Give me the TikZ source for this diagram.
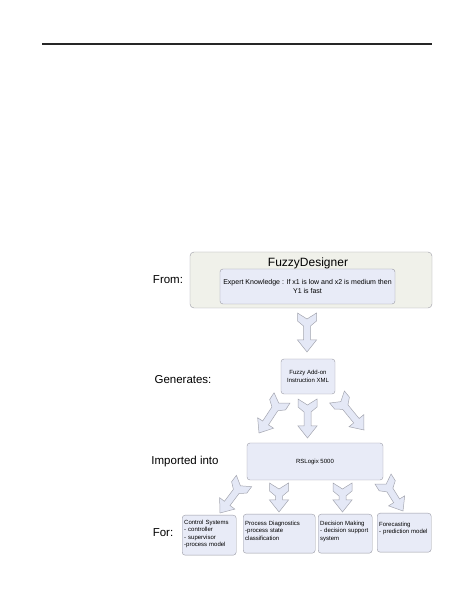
\documentclass[tikz,border=0pt]{standalone}
\usepackage{fontspec}
\setmainfont{Liberation Sans}
\usetikzlibrary{calc}
\definecolor{fd-frame}{HTML}{F0F1EA}
\definecolor{fd-box}{HTML}{E8EBF7}
\definecolor{fd-edge}{HTML}{9A9AA4}
\definecolor{fd-arrow}{HTML}{E4E8F6}
\definecolor{fd-arrow-edge}{HTML}{A4A6B0}

% fletched block arrow from tail #1 to tip #2
\newcommand{\fletcharrow}[2]{%
  \draw[blockarrow] ($(#1)!9.5pt!90:(#2)$) -- ($(#1)!6pt!(#2)$) -- ($(#1)!9.5pt!-90:(#2)$)
    -- ($(#1)!8pt!(#2)!9.5pt!-90:(#2)$) -- ($(#1)!13pt!(#2)!3.5pt!-90:(#2)$)
    -- ($(#2)!12pt!(#1)!3.5pt!90:(#1)$) -- ($(#2)!12pt!(#1)!9.5pt!90:(#1)$)
    -- (#2)
    -- ($(#2)!12pt!(#1)!9.5pt!-90:(#1)$) -- ($(#2)!12pt!(#1)!3.5pt!-90:(#1)$)
    -- ($(#1)!13pt!(#2)!3.5pt!90:(#2)$) -- ($(#1)!8pt!(#2)!9.5pt!90:(#2)$) -- cycle;}

\begin{document}
\begin{tikzpicture}[x=1pt,y=1pt,
  frame/.style={draw=fd-edge,fill=fd-frame,rounded corners=4pt,minimum width=242pt,minimum height=56pt},
  infobox/.style={draw=fd-edge,fill=fd-box,rounded corners=3pt,font=\fontsize{6}{7.5}\selectfont,align=center},
  usebox/.style={infobox,align=left,anchor=north west,inner xsep=2pt,inner ysep=3pt},
  stagelabel/.style={font=\fontsize{11.5}{14}\selectfont},
  blockarrow/.style={draw=fd-arrow-edge,fill=fd-arrow,line width=0.5pt}]
  \useasboundingbox (0,0) rectangle (474,613);

  % Overskrift-linje
  \draw[line width=1.2pt,black!85] (42,569) -- (432,569);

  % Kilde
  \node[frame] (designer) at (311,333) {};
  \node[font=\fontsize{12}{14}\selectfont] (title) at (308,350) {FuzzyDesigner};
  \node[infobox,minimum width=171pt,minimum height=35pt,font=\fontsize{7}{8.5}\selectfont] (knowledge) at (307.5,326.5)
    {Expert Knowledge : If x1 is low and x2 is medium then\\Y1 is fast};

  % Mellemtrin
  \node[infobox,minimum width=54pt,minimum height=35pt] (addon) at (308,236.5)
    {Fuzzy Add-on\\Instruction XML};
  \node[infobox,minimum width=136pt,minimum height=37pt] (rslogix) at (315,151.5) {RSLogix 5000};

  % Anvendelser
  \node[usebox,text width=50pt,text height=6pt,text depth=28pt] (control) at (182,98)
    {Control Systems\\- controller\\- supervisor\\-process model};
  \node[usebox,text width=68pt,text height=8pt,text depth=25pt] (diagnose) at (243,99)
    {Process Diagnostics\\-process state\\classification};
  \node[usebox,text width=50pt,text height=8pt,text depth=25pt] (decision) at (318,99)
    {Decision Making\\- decision support\\system};
  \node[usebox,text width=50pt,text height=10pt,text depth=23pt] (forecast) at (377,100)
    {Forecasting\\- prediction model};

  % Trin-navne
  \node[stagelabel] (from) at (168,333) {From:};
  \node[stagelabel] (generates) at (183,233) {Generates:};
  \node[stagelabel] (imported) at (185,151) {Imported into};
  \node[stagelabel] (for) at (163,80) {For:};

  % Pile
  \coordinate (a1) at (307,300);   \coordinate (a1t) at (307,261);
  \coordinate (a2) at (282,215);   \coordinate (a2t) at (259,180);
  \coordinate (a3) at (307.5,214); \coordinate (a3t) at (307.5,175);
  \coordinate (a4) at (337,216);   \coordinate (a4t) at (364,183);
  \coordinate (b1) at (244,132);   \coordinate (b1t) at (220,100);
  \coordinate (b2) at (279,130);   \coordinate (b2t) at (279,101);
  \coordinate (b3) at (342.5,130); \coordinate (b3t) at (342.5,101);
  \coordinate (b4) at (383,134);   \coordinate (b4t) at (403,102);
  \foreach \p in {a1,a2,a3,a4,b1,b2,b3,b4}{\fletcharrow{\p}{\p t}}
\end{tikzpicture}
\end{document}
